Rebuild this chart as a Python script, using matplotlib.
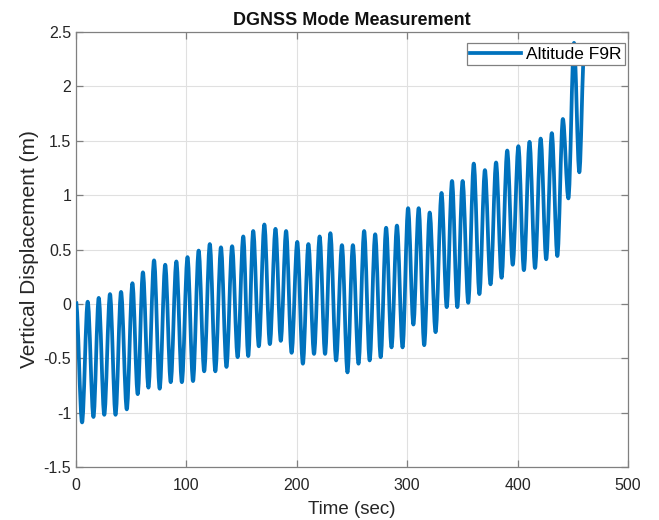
import matplotlib
matplotlib.use("Agg")
import matplotlib.pyplot as plt
from matplotlib.path import Path
from matplotlib.patches import PathPatch

plt.rcParams['font.family'] = ['Liberation Sans', 'DejaVu Sans']

# Extrema (alternating peaks / troughs) of the recorded altitude signal
time_sec = [0, 5.5, 10.6, 15.8, 20.6, 25.6, 30.8, 35.8, 40.8, 46.0, 51.1, 55.9, 60.6, 65.6,
            70.7, 75.8, 80.8, 85.8, 90.9, 95.9, 101.0, 106.0, 111.1, 116.1, 121.2, 126.2,
            131.3, 136.3, 141.4, 146.4, 151.5, 156.0, 160.5, 165.6, 170.6, 175.6, 180.7,
            185.5, 190.3, 195.3, 200.4, 205.5, 210.5, 215.6, 220.7, 225.6, 230.4, 235.6,
            240.9, 245.9, 250.8, 255.9, 261.0, 266.0, 271.0, 276.0, 280.9, 285.8, 290.7,
            295.8, 300.8, 305.6, 310.4, 315.4, 320.4, 325.7, 331.1, 335.8, 340.6, 345.4,
            350.2, 355.3, 360.3, 365.4, 370.4, 375.5, 380.5, 385.5, 390.6, 395.6, 400.7,
            405.7, 410.8, 415.8, 420.9, 425.9, 431.0, 436.0, 441.0, 446.0, 451.1, 455.9,
            460.2]
altitude_f9r = [0.02, -1.09, 0.02, -1.04, 0.055, -1.02, 0.09, -1.02, 0.11, -0.97, 0.19,
                -0.83, 0.29, -0.77, 0.40, -0.78, 0.36, -0.72, 0.39, -0.72, 0.43, -0.71,
                0.49, -0.62, 0.55, -0.62, 0.52, -0.58, 0.53, -0.49, 0.62, -0.48, 0.67,
                -0.39, 0.73, -0.37, 0.69, -0.34, 0.67, -0.45, 0.57, -0.55, 0.55, -0.46,
                0.62, -0.46, 0.65, -0.52, 0.54, -0.63, 0.54, -0.55, 0.67, -0.52, 0.64,
                -0.49, 0.70, -0.40, 0.72, -0.40, 0.88, -0.19, 0.88, -0.38, 0.84, -0.26,
                1.02, -0.03, 1.13, -0.03, 1.13, 0.01, 1.29, 0.09, 1.23, 0.18, 1.30, 0.24,
                1.41, 0.36, 1.45, 0.31, 1.49, 0.33, 1.52, 0.41, 1.57, 0.44, 1.70, 0.97,
                2.40, 1.21, 2.30]

x_ticks = [0, 100, 200, 300, 400, 500]
y_ticks = [-1.5, -1, -0.5, 0, 0.5, 1, 1.5, 2, 2.5]
y_tick_labels = ['-1.5', '-1', '-0.5', '0', '0.5', '1', '1.5', '2', '2.5']

LINE_COLOR = '#0072BD'
LW = 2.7

fig = plt.figure(figsize=(6.59, 5.20), dpi=100)
ax = fig.add_axes([76 / 659, 1 - 467 / 520, (628 - 76) / 659, (467 - 32) / 520])

# Smooth curve through the extrema: cubic Bezier segments with flat tangents
verts = [(time_sec[0], altitude_f9r[0])]
codes = [Path.MOVETO]
for i in range(1, len(time_sec)):
    t0, v0 = time_sec[i - 1], altitude_f9r[i - 1]
    t1, v1 = time_sec[i], altitude_f9r[i]
    dt = t1 - t0
    verts += [(t0 + dt / 3, v0), (t1 - dt / 3, v1), (t1, v1)]
    codes += [Path.CURVE4, Path.CURVE4, Path.CURVE4]
curve = PathPatch(Path(verts, codes), facecolor='none', edgecolor=LINE_COLOR,
                  linewidth=LW, joinstyle='round', capstyle='butt', zorder=3)
ax.add_patch(curve)
ax.plot([], [], color=LINE_COLOR, linewidth=LW, label='Altitude F9R')

ax.set_xlim(0, 500)
ax.set_ylim(-1.5, 2.5)
ax.set_xticks(x_ticks)
ax.set_yticks(y_ticks)
ax.set_yticklabels(y_tick_labels)

ax.grid(True, color='#E0E0E0', linewidth=0.8)
ax.set_axisbelow(True)
for s in ax.spines.values():
    s.set_color('#808080')
    s.set_linewidth(0.9)
ax.tick_params(direction='in', top=True, right=True, length=5, width=0.9,
               color='#808080', labelsize=11.5, labelcolor='#262626')
ax.tick_params(axis='x', pad=8)
ax.tick_params(axis='y', pad=3.5)

ax.set_title('DGNSS Mode Measurement', fontsize=13, fontweight='bold',
             color='#111111', pad=5)
ax.set_xlabel('Time (sec)', fontsize=13.5, color='#262626')
ax.set_ylabel('Vertical Displacement (m)', fontsize=15, color='#262626')
ax.xaxis.set_label_coords(0.5, (467 - 509) / 435)
ax.xaxis.label.set_va('center')
ax.yaxis.set_label_coords((30 - 76) / 552, 0.5)
ax.yaxis.label.set_va('center')

leg = ax.legend(loc='upper right', bbox_to_anchor=((625 - 76) / 552, (467 - 43) / 435),
                borderaxespad=0, fontsize=12.5, frameon=True, fancybox=False,
                edgecolor='#808080', framealpha=1, borderpad=0.2, handlelength=2.9,
                handletextpad=0.3)
leg.get_frame().set_linewidth(0.9)
leg.set_zorder(5)

fig.savefig('out.png', dpi=100)
